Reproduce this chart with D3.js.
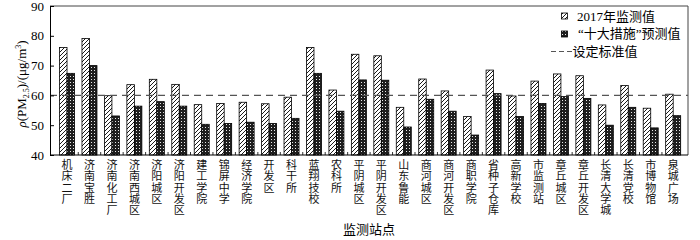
<!DOCTYPE html>
<html><head><meta charset="utf-8">
<script src="https://cdn.jsdelivr.net/npm/d3@7"></script>
<style>html,body{margin:0;padding:0;background:#fff;}svg{display:block;}</style>
</head><body>
<svg id="chart" width="700" height="240"></svg>
<script>
const categories = ["机床二厂","济南宝胜","济南化工厂","济南西城区","济阳城区","济阳开发区","建工学院","锦屏中学","经济学院","开发区","科干所","蓝翔技校","农科所","平阴城区","平阴开发区","山东鲁能","商河城区","商河开发区","商职学院","省种子仓库","高新学校","市监测站","章丘城区","章丘开发区","长清大学城","长清党校","市博物馆","泉城广场"];
const values2017 = [76.1,79.1,59.9,63.6,65.4,63.7,56.9,57.3,57.7,57.2,59.4,76.1,61.8,73.8,73.3,56.0,65.5,61.5,52.9,68.5,59.8,64.8,67.2,66.6,56.8,63.3,55.7,60.4];
const valuesForecast = [67.4,70.0,53.1,56.4,57.9,56.4,50.3,50.6,51.0,50.6,52.3,67.4,54.7,65.2,65.1,49.4,58.7,54.7,46.7,60.6,52.9,57.3,59.6,59.0,50.0,56.0,49.1,53.2];
const standardValue = 60;
const yTicks = [40,50,60,70,80,90];
const legendLabels = ["2017年监测值","“十大措施”预测值","设定标准值"];
const xTitle = "监测站点";

(function(){
const svg = d3.select("#chart");
const pl = 50, pr = 688, pt = 6, pb = 155;
const serif = "'Liberation Serif','Noto Sans CJK SC',serif";

const defs = svg.append("defs");
const hatch = defs.append("pattern").attr("id","hatch").attr("patternUnits","userSpaceOnUse")
  .attr("width",4).attr("height",4);
hatch.append("rect").attr("width",4).attr("height",4).attr("fill","#fff");
hatch.append("path").attr("d","M-1,1 l2,-2 M0,4 l4,-4 M3,5 l2,-2").attr("stroke","#000").attr("stroke-width",0.9);
const dots = defs.append("pattern").attr("id","dots").attr("patternUnits","userSpaceOnUse")
  .attr("width",3).attr("height",3);
dots.append("rect").attr("width",3).attr("height",3).attr("fill","#1e1e1e");
dots.append("rect").attr("x",1).attr("y",1).attr("width",1).attr("height",1).attr("fill","#e8e8e8");

const x = d3.scaleBand().domain(categories).range([55.8, 684.4]).paddingInner(0).paddingOuter(0);
const y = d3.scaleLinear().domain([40,90]).range([pb, pt]);
const bw = 7.5;

svg.append("line").attr("x1",pl).attr("x2",pr).attr("y1",pt).attr("y2",pt).attr("stroke","#444").attr("stroke-width",1);
svg.append("line").attr("x1",pr).attr("x2",pr).attr("y1",pt).attr("y2",pb).attr("stroke","#444").attr("stroke-width",1);

const g = svg.append("g");
g.selectAll("rect.a").data(categories).join("rect").attr("class","a")
  .attr("x", d => x(d) + x.bandwidth()/2 - bw)
  .attr("y", (d,i) => y(values2017[i]))
  .attr("width", bw).attr("height", (d,i) => y(40) - y(values2017[i]))
  .attr("fill","url(#hatch)").attr("stroke","#000").attr("stroke-width",0.8);
g.selectAll("rect.b").data(categories).join("rect").attr("class","b")
  .attr("x", d => x(d) + x.bandwidth()/2)
  .attr("y", (d,i) => y(valuesForecast[i]))
  .attr("width", bw).attr("height", (d,i) => y(40) - y(valuesForecast[i]))
  .attr("fill","url(#dots)").attr("stroke","#000").attr("stroke-width",0.8);

svg.append("line").attr("x1",pl).attr("x2",pr).attr("y1",y(standardValue)).attr("y2",y(standardValue))
  .attr("stroke","#555").attr("stroke-width",1.2).attr("stroke-dasharray","7,5");

const ya = svg.append("g").attr("transform",`translate(${pl},0)`)
  .call(d3.axisLeft(y).tickValues(yTicks).tickSizeInner(-4).tickSizeOuter(0).tickPadding(6));
ya.select(".domain").attr("stroke","#000");
ya.selectAll(".tick line").attr("stroke","#000");
ya.selectAll("text").attr("font-family",serif).attr("font-size",13).attr("fill","#000");

svg.append("line").attr("x1",pl).attr("x2",pr).attr("y1",pb).attr("y2",pb).attr("stroke","#000");
svg.append("g").selectAll("line").data(categories.slice(1)).join("line")
  .attr("x1", d => x(d)).attr("x2", d => x(d)).attr("y1", pb).attr("y2", pb-3)
  .attr("stroke","#000").attr("stroke-width",0.8);

const lab = svg.append("g").attr("font-family",serif).attr("font-size",11).attr("fill","#111").attr("text-anchor","middle");
categories.forEach(c => {
  const t = lab.append("text").attr("x", x(c)+x.bandwidth()/2).attr("y", 169);
  Array.from(c).forEach((ch,i) => {
    t.append("tspan").attr("x", x(c)+x.bandwidth()/2).attr("dy", i===0 ? 0 : 11.3).text(ch);
  });
});

svg.append("text").attr("x",369).attr("y",234).attr("text-anchor","middle")
  .attr("font-family",serif).attr("font-size",13).text(xTitle);

const yt = svg.append("text").attr("transform","translate(26,84) rotate(-90)").attr("text-anchor","middle")
  .attr("font-family",serif).attr("font-size",13);
yt.append("tspan").attr("font-style","italic").text("ρ");
yt.append("tspan").text("(PM");
yt.append("tspan").attr("font-size",8).attr("dy",3).text("2.5");
yt.append("tspan").attr("dy",-3).text(")/(μg/m");
yt.append("tspan").attr("font-size",8).attr("dy",-5).text("3");
yt.append("tspan").attr("dy",5).text(")");

const lg = svg.append("g").attr("font-family",serif).attr("font-size",13);
lg.append("rect").attr("x",561.5).attr("y",13).attr("width",6).attr("height",6).attr("fill","url(#hatch)").attr("stroke","#000").attr("stroke-width",0.8);
lg.append("text").attr("x",577).attr("y",20.5).text(legendLabels[0]);
lg.append("rect").attr("x",561.5).attr("y",31).attr("width",6).attr("height",6).attr("fill","url(#dots)").attr("stroke","#000").attr("stroke-width",0.8);
lg.append("text").attr("x",578).attr("y",38).text(legendLabels[1]);
lg.append("line").attr("x1",551).attr("x2",572).attr("y1",51.5).attr("y2",51.5).attr("stroke","#555").attr("stroke-width",1.2).attr("stroke-dasharray","5,3");
lg.append("text").attr("x",572.5).attr("y",56).text(legendLabels[2]);
})();
</script>
</body></html>
